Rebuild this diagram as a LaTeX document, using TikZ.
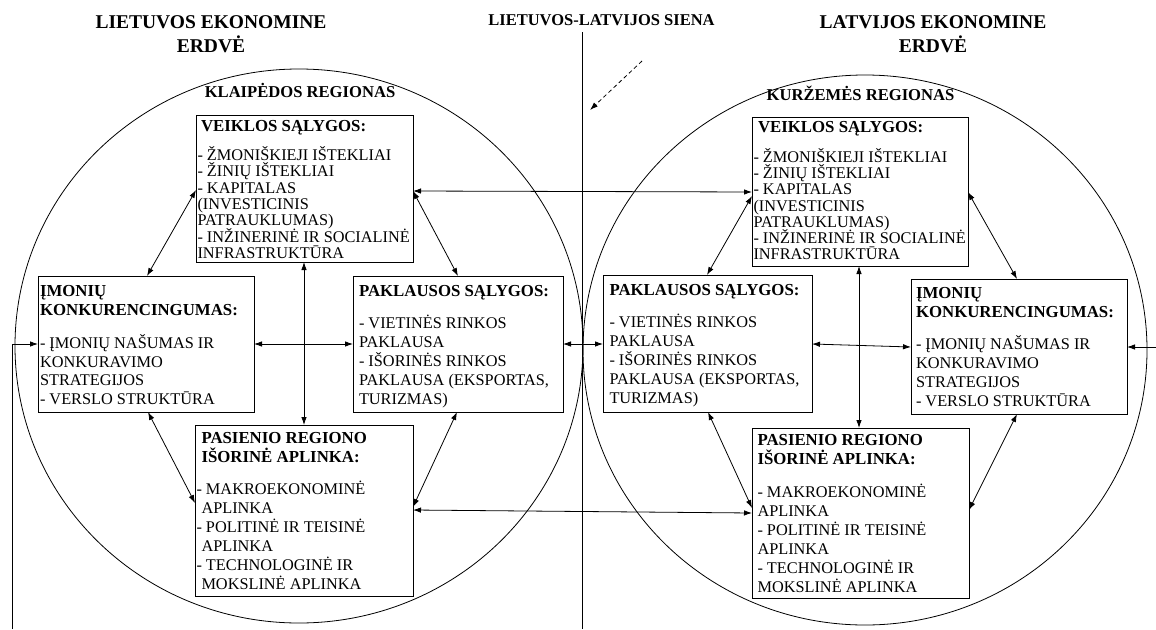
\documentclass[tikz,border=0pt]{standalone}
\usepackage{fontspec}
\setmainfont{Liberation Serif}
\usetikzlibrary{arrows.meta}
\newcommand{\hdr}[1]{{\fontsize{16.8pt}{16.8pt}\bfseries #1}}
\newcommand{\tstrut}{\rule{0pt}{15pt}}
\begin{document}
\lineskiplimit=-50pt
\begin{tikzpicture}[x=1pt,y=-1pt,
  box/.style={draw, line width=0.9pt, anchor=north west, inner sep=0pt, outer sep=0pt},
  txt/.style={anchor=north west, inner sep=0pt, outer sep=0pt, align=left},
  ttl/.style={inner sep=0pt, outer sep=0pt},
  ln/.style={line width=0.8pt},
  dbl/.style={ln, {Latex[length=8pt,width=5.5pt]}-{Latex[length=8pt,width=5.5pt]}},
  one/.style={ln, -{Latex[length=8pt,width=5.5pt]}},
  bodyfont/.style={font={\fontsize{16.3pt}{#1}\selectfont}}
]
\useasboundingbox (0,0) rectangle (1156,629);
\fill[white] (0,0) rectangle (1156,629);

% circles (regions)
\draw[ln] (299,346) ellipse [x radius=284pt, y radius=277pt];
\draw[ln] (865,350) ellipse [x radius=282pt, y radius=275pt];

% titles
\node[ttl, anchor=north, align=center, font={\fontsize{19.5pt}{24pt}\bfseries}] (TL) at (211,12)
  {\rule{0pt}{16pt}LIETUVOS EKONOMINE\\ERDVĖ};
\node[ttl, anchor=north, align=center, font={\fontsize{19.5pt}{24pt}\bfseries}] (TR) at (933,12)
  {\rule{0pt}{16pt}LATVIJOS EKONOMINE\\ERDVĖ};
\node[ttl, anchor=base, font={\fontsize{16.5pt}{16.5pt}\bfseries}] (TC) at (601.5,25) {LIETUVOS-LATVIJOS SIENA};
\node[ttl, anchor=base, font={\fontsize{16.6pt}{16.6pt}\bfseries}] (RGL) at (300,97) {KLAIPĖDOS REGIONAS};
\node[ttl, anchor=base, font={\fontsize{16.6pt}{16.6pt}\bfseries}] (RGR) at (860.5,100.5) {KURŽEMĖS REGIONAS};

% border line and dashed pointer
\coordinate (B1) at (582,32);
\coordinate (B2) at (582,629);
\draw[ln] (B1) -- (B2);
\coordinate (D1) at (642,61);
\coordinate (D2) at (590,110);
\draw[ln, dashed, dash pattern=on 4pt off 3pt, -{Latex[length=8pt,width=5.5pt]}] (D1) -- (D2);

% ---------- left boxes ----------
\node[box, minimum width=217pt, minimum height=147pt] (LV) at (196,115) {};
\node[box, minimum width=216pt, minimum height=136pt] (LI) at (38,276) {};
\node[box, minimum width=210pt, minimum height=136pt] (LP) at (353,276) {};
\node[box, minimum width=218pt, minimum height=171pt] (LA) at (195,425) {};
% ---------- right boxes ----------
\node[box, minimum width=216pt, minimum height=149pt] (RV) at (752,117) {};
\node[box, minimum width=209pt, minimum height=137pt] (RP) at (603,275) {};
\node[box, minimum width=216pt, minimum height=135pt] (RI) at (911,279) {};
\node[box, minimum width=217pt, minimum height=170pt] (RA) at (752,428) {};

% ---------- texts ----------
\node[txt, bodyfont=16.3pt] (LVt) at (197.5,116.5) {%
\hdr{\tstrut\hspace*{3.5pt}VEIKLOS SĄLYGOS:}\\[12.7pt]
- ŽMONIŠKIEJI IŠTEKLIAI\\
- ŽINIŲ IŠTEKLIAI\\
- KAPITALAS\\
(INVESTICINIS\\
PATRAUKLUMAS)\\
- INŽINERINĖ IR SOCIALINĖ\\
INFRASTRUKTŪRA};

\node[txt, bodyfont=18.5pt] (LIt) at (40,281.5) {%
\hdr{\tstrut ĮMONIŲ}\\
\hdr{KONKURENCINGUMAS:}\\[15pt]
- ĮMONIŲ NAŠUMAS IR\\
KONKURAVIMO\\
STRATEGIJOS\\
- VERSLO STRUKTŪRA};

\node[txt, bodyfont=19pt] (LPt) at (359,281.5) {%
\hdr{\tstrut PAKLAUSOS SĄLYGOS:}\\[13pt]
- VIETINĖS RINKOS\\
PAKLAUSA\\
- IŠORINĖS RINKOS\\
PAKLAUSA (EKSPORTAS,\\
TURIZMAS)};

\node[txt, bodyfont=19pt] (LAt) at (196.5,428.5) {%
\hdr{\tstrut\hspace*{5pt}PASIENIO REGIONO}\\
\hdr{\hspace*{5pt}IŠORINĖ APLINKA:}\\[13pt]
- MAKROEKONOMINĖ\\
\hspace*{5pt}APLINKA\\
- POLITINĖ IR TEISINĖ\\
\hspace*{5pt}APLINKA\\
- TECHNOLOGINĖ IR\\
\hspace*{5pt}MOKSLINĖ APLINKA};

\node[txt, bodyfont=16.2pt] (RVt) at (753.5,117.5) {%
\hdr{\tstrut\hspace*{4.5pt}VEIKLOS SĄLYGOS:}\\[13.8pt]
- ŽMONIŠKIEJI IŠTEKLIAI\\
- ŽINIŲ IŠTEKLIAI\\
- KAPITALAS\\
(INVESTICINIS\\
PATRAUKLUMAS)\\
- INŽINERINĖ IR SOCIALINĖ\\
INFRASTRUKTŪRA};

\node[txt, bodyfont=19pt] (RPt) at (609.5,280.5) {%
\hdr{\tstrut PAKLAUSOS SĄLYGOS:}\\[13pt]
- VIETINĖS RINKOS\\
PAKLAUSA\\
- IŠORINĖS RINKOS\\
PAKLAUSA (EKSPORTAS,\\
TURIZMAS)};

\node[txt, bodyfont=19pt] (RIt) at (916,283.5) {%
\hdr{\tstrut ĮMONIŲ}\\
\hdr{KONKURENCINGUMAS:}\\[13pt]
- ĮMONIŲ NAŠUMAS IR\\
KONKURAVIMO\\
STRATEGIJOS\\
- VERSLO STRUKTŪRA};

\node[txt, bodyfont=19pt] (RAt) at (757.5,430.5) {%
\hdr{\tstrut PASIENIO REGIONO}\\
\hdr{IŠORINĖ APLINKA:}\\[14pt]
- MAKROEKONOMINĖ\\
APLINKA\\
- POLITINĖ IR TEISINĖ\\
APLINKA\\
- TECHNOLOGINĖ IR\\
MOKSLINĖ APLINKA};

% ---------- left connectors ----------
\draw[dbl] ([shift={(0,75)}]LV.north west) -- ([shift={(109,0)}]LI.north west);
\draw[dbl] ([shift={(217,76)}]LV.north west) -- ([shift={(105,0)}]LP.north west);
\draw[dbl] ([shift={(108,147)}]LV.north west) -- ([shift={(109,0)}]LA.north west);
\draw[dbl] ([shift={(216,68)}]LI.north west) -- ([shift={(0,68)}]LP.north west);
\draw[dbl] ([shift={(110,136)}]LI.north west) -- ([shift={(0,78)}]LA.north west);
\draw[dbl] ([shift={(104,136)}]LP.north west) -- ([shift={(218,82)}]LA.north west);

% ---------- cross-border connectors ----------
\draw[dbl] ([shift={(217,76)}]LV.north west) -- ([shift={(0,75)}]RV.north west);
\draw[dbl] ([shift={(210,68)}]LP.north west) -- ([shift={(0,69)}]RP.north west);
\draw[dbl] ([shift={(218,85)}]LA.north west) -- ([shift={(0,85)}]RA.north west);

% ---------- right connectors ----------
\draw[dbl] ([shift={(0,79)}]RV.north west) -- ([shift={(104,0)}]RP.north west);
\draw[dbl] ([shift={(216,75)}]RV.north west) -- ([shift={(106,0)}]RI.north west);
\draw[dbl] ([shift={(107,149)}]RV.north west) -- ([shift={(107,0)}]RA.north west);
\draw[dbl] ([shift={(209,69)}]RP.north west) -- ([shift={(0,68)}]RI.north west);
\draw[dbl] ([shift={(105,137)}]RP.north west) -- ([shift={(0,80)}]RA.north west);
\draw[dbl] ([shift={(106,135)}]RI.north west) -- ([shift={(217,82)}]RA.north west);

% ---------- outer feed lines ----------
\coordinate (FL) at (12,629);
\draw[one] (FL) |- ([shift={(0,68)}]LI.north west);
\coordinate (FR) at (1156,347);
\draw[one] (FR) -- ([shift={(216,68)}]RI.north west);
\end{tikzpicture}
\end{document}
